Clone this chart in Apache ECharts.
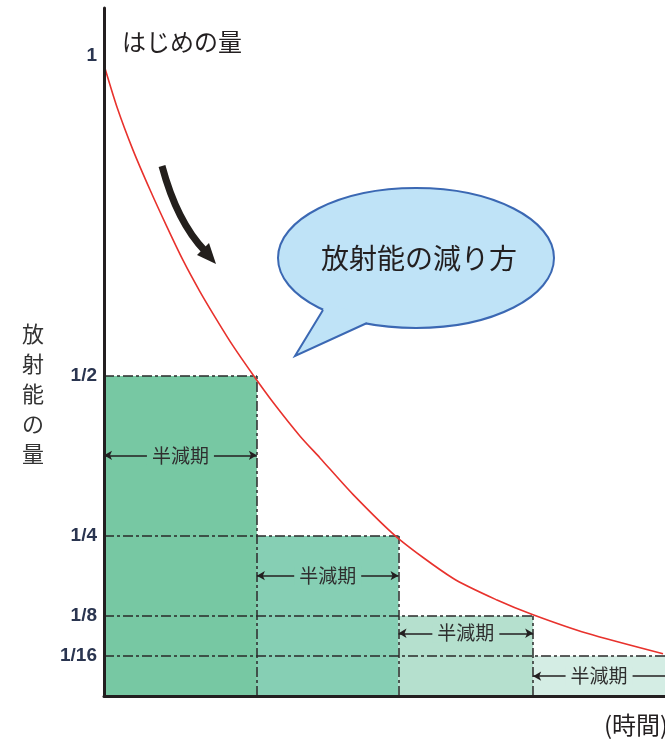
<!DOCTYPE html>
<html>
<head>
<meta charset="utf-8">
<script src="https://cdn.jsdelivr.net/npm/echarts/dist/echarts.min.js"></script>
<style>
html,body{margin:0;padding:0;background:#fff;}
#chart{width:665px;height:740px;}
</style>
</head>
<body>
<div id="chart"></div>
<script>
// ---- data ----
const timeValues   = [0, 0.093, 0.207, 0.328, 0.449, 0.563, 0.684, 0.806, 0.920, 1.062, 1.205, 1.398, 1.540, 1.775, 2.089, 2.488, 2.802, 3.059, 3.444, 3.986];
const amountValues = [0.986, 0.92, 0.853, 0.791, 0.733, 0.681, 0.632, 0.587, 0.547, 0.502, 0.459, 0.406, 0.372, 0.315, 0.248, 0.184, 0.150, 0.127, 0.098, 0.066];
const halfLifeBounds = [0, 1.09, 2.1, 3.06, 4.0];
const remainingLevels = [0.5, 0.25, 0.125, 0.0625];
const yTickValues = [1, 0.5, 0.25, 0.125, 0.0625];
const yTickLabels = ['1', '1/2', '1/4', '1/8', '1/16'];
const periodText = '半減期';
const startText = 'はじめの量';
const yTitle = '放射能の量';
const xTitle = '(時間)';
const bubbleText = '放射能の減り方';

// ---- styles ----
const rectColors = ['#77c8a3', '#86cfb4', '#b5e0ce', '#d4ede4'];
const periodArrowY = [0.376, 0.188, 0.098, 0.031];
const dashDot = [10, 3, 3, 3];
const cjk = '"Noto Sans CJK JP", "Noto Sans", sans-serif';

const curveData = timeValues.map((t, i) => [t, amountValues[i]]);

const areaData = remainingLevels.map((lvl, i) => [
  { xAxis: halfLifeBounds[i], yAxis: 0, itemStyle: { color: rectColors[i] } },
  { xAxis: halfLifeBounds[i + 1], yAxis: lvl }
]);

const guideData = [];
remainingLevels.forEach((lvl, i) => {
  guideData.push([{ coord: [0, lvl] }, { coord: [halfLifeBounds[i + 1], lvl] }]);
  if (i < remainingLevels.length - 1) {
    guideData.push([{ coord: [halfLifeBounds[i + 1], 0] }, { coord: [halfLifeBounds[i + 1], lvl] }]);
  }
});

const arrowData = remainingLevels.map((lvl, i) => {
  const last = i === remainingLevels.length - 1;
  return [
    { coord: [halfLifeBounds[i], periodArrowY[i]], symbol: 'arrow',
      label: { backgroundColor: rectColors[i] } },
    { coord: [halfLifeBounds[i + 1], periodArrowY[i]], symbol: last ? 'none' : 'arrow' }
  ];
});

const chart = echarts.init(document.getElementById('chart'), null, { renderer: 'canvas' });

const option = {
  animation: false,
  backgroundColor: '#ffffff',
  grid: { left: 104, right: 0, top: 8, bottom: 44 },
  xAxis: {
    type: 'value', min: 0, max: 4, z: 10,
    axisLine: { show: true, lineStyle: { color: '#231f20', width: 3 } },
    axisTick: { show: false }, axisLabel: { show: false }, splitLine: { show: false }
  },
  yAxis: {
    type: 'value', min: 0, max: 1.075, z: 10,
    axisLine: { show: true, lineStyle: { color: '#231f20', width: 3 } },
    axisTick: { show: false }, splitLine: { show: false },
    axisLabel: {
      show: true,
      customValues: yTickValues,
      formatter: v => { const i = yTickValues.indexOf(v); return i >= 0 ? yTickLabels[i] : ''; },
      color: '#2a3550', fontSize: 19, fontWeight: 'bold',
      fontFamily: '"Liberation Sans", Arial, sans-serif', margin: 7
    }
  },
  series: [
    {
      type: 'line', data: [], silent: true,
      markArea: { silent: true, data: areaData, label: { show: false } },
      markLine: {
        silent: true, symbol: 'none', data: guideData,
        label: { show: false },
        lineStyle: { color: '#2a2a2a', width: 1.5, type: dashDot }
      }
    },
    {
      type: 'line', data: [], silent: true,
      markLine: {
        silent: true, symbol: 'arrow', symbolSize: [7, 8], data: arrowData,
        lineStyle: { color: '#231f20', width: 1.6, type: 'solid' },
        label: {
          show: true, position: 'middle', formatter: periodText,
          distance: 0, verticalAlign: 'middle', align: 'center',
          color: '#2f2f2f', fontSize: 19, fontFamily: cjk, padding: [0, 5]
        }
      }
    },
    {
      type: 'line', data: curveData, smooth: 0.25, showSymbol: false, silent: true,
      lineStyle: { color: '#e8322d', width: 1.6 }, z: 5
    }
  ],
  graphic: [
    { type: 'text', x: 122, y: 42, z: 20,
      style: { text: startText, font: '24px ' + cjk, fill: '#231f20', textVerticalAlign: 'middle' } },
    { type: 'text', x: 33, y: 319, z: 20,
      style: { text: yTitle.split('').join('\n'), font: '22px ' + cjk, fill: '#333',
               lineHeight: 30, textAlign: 'center', textVerticalAlign: 'top' } },
    { type: 'text', x: 604, y: 725, z: 20,
      style: { text: xTitle, font: '24px ' + cjk, fill: '#231f20', textVerticalAlign: 'middle' } },
    // speech bubble
    { type: 'ellipse', z: 20, shape: { cx: 416, cy: 258, rx: 138, ry: 70 },
      style: { fill: '#bfe3f7', stroke: '#3b68b3', lineWidth: 2 } },
    { type: 'polygon', z: 21, shape: { points: [[326, 303], [323, 310], [295, 356], [367, 323], [366, 316]] },
      style: { fill: '#bfe3f7', stroke: null } },
    { type: 'polyline', z: 22, shape: { points: [[323, 310], [295, 356], [367, 323]] },
      style: { fill: null, stroke: '#3b68b3', lineWidth: 2 } },
    { type: 'text', x: 419, y: 258, z: 23,
      style: { text: bubbleText, font: '28px ' + cjk, fill: '#231f20', textAlign: 'center', textVerticalAlign: 'middle' } },
    // black arrow
    { type: 'bezierCurve', z: 20,
      shape: { x1: 162, y1: 166, cpx1: 177, cpy1: 222, x2: 205, y2: 251 },
      style: { stroke: '#231f1c', lineWidth: 7, fill: null } },
    { type: 'polygon', z: 20, shape: { points: [[209, 243], [216, 264], [197, 255]] },
      style: { fill: '#231f1c' } }
  ]
};

chart.setOption(option);
</script>
</body>
</html>
